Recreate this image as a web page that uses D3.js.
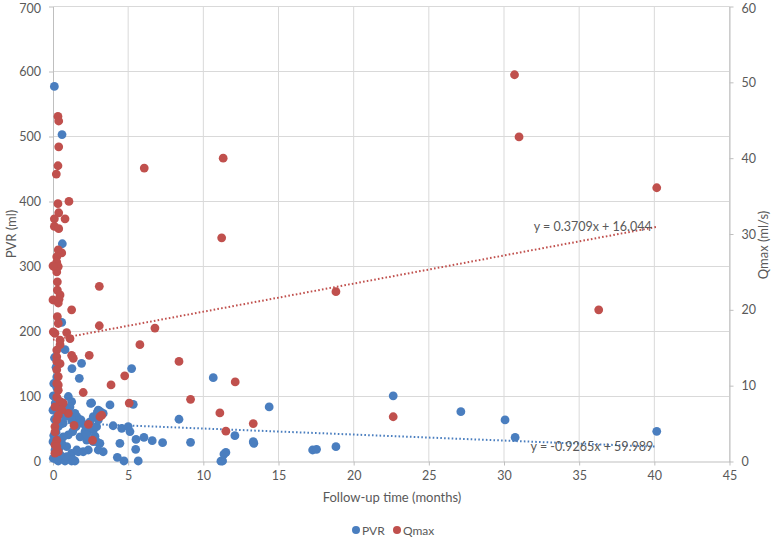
<!DOCTYPE html>
<html><head><meta charset="utf-8">
<script src="https://cdn.jsdelivr.net/npm/d3@7"></script>
<style>
body{margin:0;background:#fff;}
text{font-family:Lato,"Open Sans",sans-serif;}
</style>
</head><body>
<svg id="c" width="778" height="547"></svg>
<script>
// ---------- data ----------
const pvrX = [0.09,0.6,0.62,0.58,0.8,1.9,1.26,5.23,1.75,0.25,10.66,0.25,0.02,1.02,2.57,3.79,5.34,0.0,3.01,1.02,1.68,0.68,2.35,4.0,4.57,5.0,5.12,8.38,6.05,5.52,6.6,7.29,9.15,12.1,13.36,13.32,4.45,5.5,4.28,4.72,5.67,11.28,11.17,11.5,11.37,17.27,17.53,18.82,22.63,27.13,30.07,30.74,40.16,14.38,
  0.13,0.47,1.24,1.13,1.46,1.58,1.86,2.13,2.41,2.68,2.9,3.01,2.95,3.12,3.34,1.8,2.24,2.68,2.9,3.12,3.34,3.01,2.35,2.01,1.58,1.24,0.91,0.58,0.25,0.0,0.13,0.02,0.35,0.8,1.24,1.46,0.91,0.55,0.35,0.8,0.68,0.91,1.24,1.31,1.02,0.68,1.53,1.8,2.13,2.24,2.46,2.68,2.5,0.35,1.35,1.68,2.79,0.1,0.2,0.05,0.15,0.3,0.1,0.2,0.05,0.4,0.15,0.5,0.25];
const pvrY = [577,503,335,214,172,151,143,143,128,130,129,114,101,100,90,87,88,79,79,74,66,59,58,55,51,53.5,46,65,37,34,32,29,29.5,39.7,28,30.5,28,18.8,6.5,0.8,0.8,0.8,0.5,14,11.5,17.7,18.8,22.8,101,76.6,64,37,46.5,84,
  100,92,92,84,74,69,64,56,48.5,48.5,53.5,64,76,77,74,38,33,30.5,30.5,28,15,17.7,17.7,15,17.7,12.6,22.8,28,33,30.5,17.7,5,0.8,0.8,0.8,0.8,7.4,58,53.5,69,84,79,64,46,41,38,53.5,59,46,41,61,69,89.5,12.6,2.3,15,39,160,145,120,90,75,65,45,40,20,25,10,3];

const qmaxX = [30.7,31.0,40.16,11.32,11.22,6.07,18.82,36.3,22.63,6.78,5.78,8.38,4.77,12.12,9.15,5.07,11.1,13.32,11.5,3.08,3.08,3.86,2.41,2.01,2.36,3.24,3.12,2.63,1.4,1.02,1.24,1.35,1.24,1.13,0.91,1.06,0.8,0.58,0.33,0.38,0.38,0.33,0.22,0.33,0.38,0.09,0.09,0.38,0.35,0.25,0.25,0.07,0.35,0.25,0.29,0.29,0.47,0.4,0.0,0.0,0.29,0.35,0.02,0.13,0.47,0.47,0.25,0.25,0.25,0.47,0.25,0.35,0.25,0.35,0.35,0.25,0.47,0.68,0.13,0.58,0.35,0.25,0.13,0.13,0.25,0.13,0.35,0.13,0.25,0.35];
const qmaxY = [51.0,42.8,36.1,40.0,29.5,38.7,22.4,20.0,5.9,17.6,15.4,13.2,11.3,10.5,8.2,7.7,6.4,5.0,4.0,23.1,17.9,10.1,14.0,9.1,4.9,6.1,5.9,2.8,4.75,6.35,20.0,13.6,14.0,16.2,17.0,34.3,32.0,27.5,45.5,44.9,41.5,39.0,37.9,34.0,32.8,32.0,31.0,30.7,27.9,27.0,26.3,25.7,25.7,25.0,23.7,22.6,21.96,21.4,21.3,25.8,19.1,18.2,17.1,16.9,16.0,15.4,14.7,13.8,13.2,12.9,12.1,11.2,10.3,10.1,9.4,8.5,7.9,7.7,7.2,6.8,6.1,5.5,4.6,3.9,2.8,2.2,1.3,1.1,2.0,20.9];

const xTicks = [0,5,10,15,20,25,30,35,40,45];
const pvrTicks = [0,100,200,300,400,500,600,700];
const qmaxTicks = [0,10,20,30,40,50,60];
const trendXRange = [0,40.16];
const pvrTrend = {slope:-0.9265, intercept:59.989, label:"y = -0.9265x + 59.989", labelX:35.85, labelY:16.3};
const qmaxTrend = {slope:0.3709, intercept:16.044, label:"y = 0.3709x + 16.044", labelX:35.9, labelY:30.4};
const seriesNames = ["PVR","Qmax"];
const colors = {PVR:"#4a7ebf", Qmax:"#c0504d"};

// ---------- chart ----------
const svg = d3.select("#c");
const x = d3.scaleLinear().domain([0,45]).range([53,729.5]);
const yL = d3.scaleLinear().domain([0,700]).range([461.5,6.5]);
const yR = d3.scaleLinear().domain([0,60]).range([461.5,6.5]);
const gridCol = "#d9d9d9", axisCol = "#bfbfbf", txtCol = "#595959";

// grid
const g = svg.append("g");
g.selectAll(".vg").data(xTicks.slice(1)).enter().append("line")
  .attr("x1",d=>x(d)).attr("x2",d=>x(d)).attr("y1",yL(0)).attr("y2",yL(700))
  .attr("stroke",gridCol).attr("stroke-width",1);
g.selectAll(".hg").data(pvrTicks.slice(1)).enter().append("line")
  .attr("x1",x(0)).attr("x2",x(45)).attr("y1",d=>yL(d)).attr("y2",d=>yL(d))
  .attr("stroke",gridCol).attr("stroke-width",1);

function styleAxis(sel){
  sel.selectAll("path").attr("stroke",axisCol);
  sel.selectAll("line").attr("stroke",axisCol);
  sel.selectAll("text").attr("fill",txtCol).style("font-size","12.5px").style("font-family","Lato, 'Open Sans', sans-serif");
}
svg.append("g").attr("transform",`translate(0,${yL(0)})`)
  .call(d3.axisBottom(x).tickValues(xTicks).tickSize(4).tickPadding(6).tickSizeOuter(0)).call(styleAxis);
const la = svg.append("g").attr("transform",`translate(${x(0)},0)`)
  .call(d3.axisLeft(yL).tickValues(pvrTicks).tickSize(4).tickPadding(8).tickSizeOuter(0)).call(styleAxis);
const ra = svg.append("g").attr("transform",`translate(${x(45)},0)`)
  .call(d3.axisRight(yR).tickValues(qmaxTicks).tickSize(4).tickPadding(8).tickSizeOuter(0)).call(styleAxis);
// keep top labels inside the canvas
la.selectAll(".tick text").filter(d=>d===700).attr("dy","0.5em");
ra.selectAll(".tick text").filter(d=>d===60).attr("dy","0.5em");

// axis titles
svg.append("text").attr("x",392).attr("y",502).attr("text-anchor","middle")
  .attr("fill",txtCol).style("font-size","13px").text("Follow-up time (months)");
svg.append("text").attr("transform","translate(16,234) rotate(-90)").attr("text-anchor","middle")
  .attr("fill",txtCol).style("font-size","13px").text("PVR (ml)");
svg.append("text").attr("transform","translate(768,245) rotate(-90)").attr("text-anchor","middle")
  .attr("fill",txtCol).style("font-size","13px").text("Qmax (ml/s)");

// trend lines
const line = d3.line();
svg.append("path")
  .attr("d", line(trendXRange.map(v=>[x(v), yL(pvrTrend.slope*v+pvrTrend.intercept)])))
  .attr("stroke",colors.PVR).attr("stroke-width",2).attr("stroke-dasharray","1.6,2.2").attr("fill","none");
svg.append("path")
  .attr("d", line(trendXRange.map(v=>[x(v), yR(qmaxTrend.slope*v+qmaxTrend.intercept)])))
  .attr("stroke",colors.Qmax).attr("stroke-width",2).attr("stroke-dasharray","1.6,2.2").attr("fill","none");

// points
const r = 4.4;
svg.append("g").selectAll("circle").data(pvrX.map((v,i)=>[v,pvrY[i]])).enter().append("circle")
  .attr("cx",d=>x(d[0])).attr("cy",d=>yL(d[1])).attr("r",r).attr("fill",colors.PVR);
svg.append("g").selectAll("circle").data(qmaxX.map((v,i)=>[v,qmaxY[i]])).enter().append("circle")
  .attr("cx",d=>x(d[0])).attr("cy",d=>yR(d[1])).attr("r",r).attr("fill",colors.Qmax);

// trend labels
svg.append("text").attr("x",x(qmaxTrend.labelX)).attr("y",yR(qmaxTrend.labelY)).attr("text-anchor","middle")
  .attr("fill",txtCol).style("font-size","12.5px").text(qmaxTrend.label);
svg.append("text").attr("x",x(pvrTrend.labelX)).attr("y",yL(pvrTrend.labelY)).attr("text-anchor","middle")
  .attr("fill",txtCol).style("font-size","12.5px").text(pvrTrend.label);

// legend
const leg = svg.append("g");
const legItems = [{name:seriesNames[0], cx:356, tx:362},{name:seriesNames[1], cx:397, tx:403}];
legItems.forEach(it=>{
  leg.append("circle").attr("cx",it.cx).attr("cy",530).attr("r",4).attr("fill",colors[it.name]);
  leg.append("text").attr("x",it.tx).attr("y",534.5).attr("fill",txtCol).style("font-size","12px").text(it.name);
});
</script>
</body></html>
